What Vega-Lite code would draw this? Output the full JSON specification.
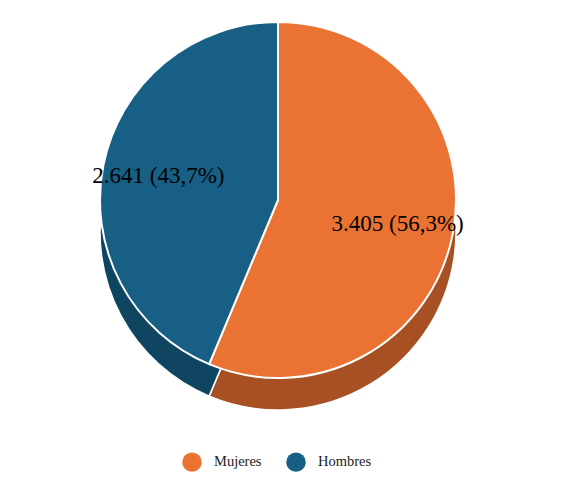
{
  "$schema": "https://vega.github.io/schema/vega-lite/v6.json",
  "width": 556,
  "height": 400,
  "autosize": "none",
  "padding": {"left": 0, "top": 0, "right": 23, "bottom": 85},
  "background": "white",
  "config": {"view": {"stroke": null}},
  "data": {
    "values": [
      {"sexo": "Mujeres", "valor": 3405, "etiqueta": "3.405 (56,3%)", "orden": 1},
      {"sexo": "Hombres", "valor": 2641, "etiqueta": "2.641 (43,7%)", "orden": 2}
    ]
  },
  "encoding": {
    "theta": {"field": "valor", "type": "quantitative", "stack": true},
    "order": {"field": "orden", "type": "quantitative"}
  },
  "layer": [
    {
      "mark": {"type": "arc", "radius": 178, "yOffset": 32, "stroke": "white", "strokeWidth": 1.5},
      "encoding": {
        "color": {
          "field": "sexo", "type": "nominal",
          "scale": {"domain": ["Mujeres", "Hombres"], "range": ["#A65023", "#0F4560"]},
          "legend": null
        }
      }
    },
    {
      "mark": {"type": "arc", "radius": 178, "stroke": "white", "strokeWidth": 2},
      "encoding": {
        "color": {
          "field": "sexo", "type": "nominal",
          "scale": {"domain": ["Mujeres", "Hombres"], "range": ["#EA7333", "#175F84"]},
          "legend": {
            "title": null,
            "orient": "none",
            "legendX": 182,
            "legendY": 452,
            "direction": "horizontal",
            "symbolType": "circle",
            "symbolSize": 380,
            "symbolStrokeWidth": 0,
            "labelFont": "Liberation Serif",
            "labelFontSize": 14.5,
            "labelColor": "#222222",
            "labelOffset": 12,
            "columnPadding": 24
          }
        }
      }
    },
    {
      "mark": {"type": "text", "radius": 122, "font": "Liberation Serif", "fontSize": 23, "color": "black"},
      "encoding": {"text": {"field": "etiqueta", "type": "nominal"}}
    }
  ],
  "resolve": {"scale": {"color": "independent"}}
}
